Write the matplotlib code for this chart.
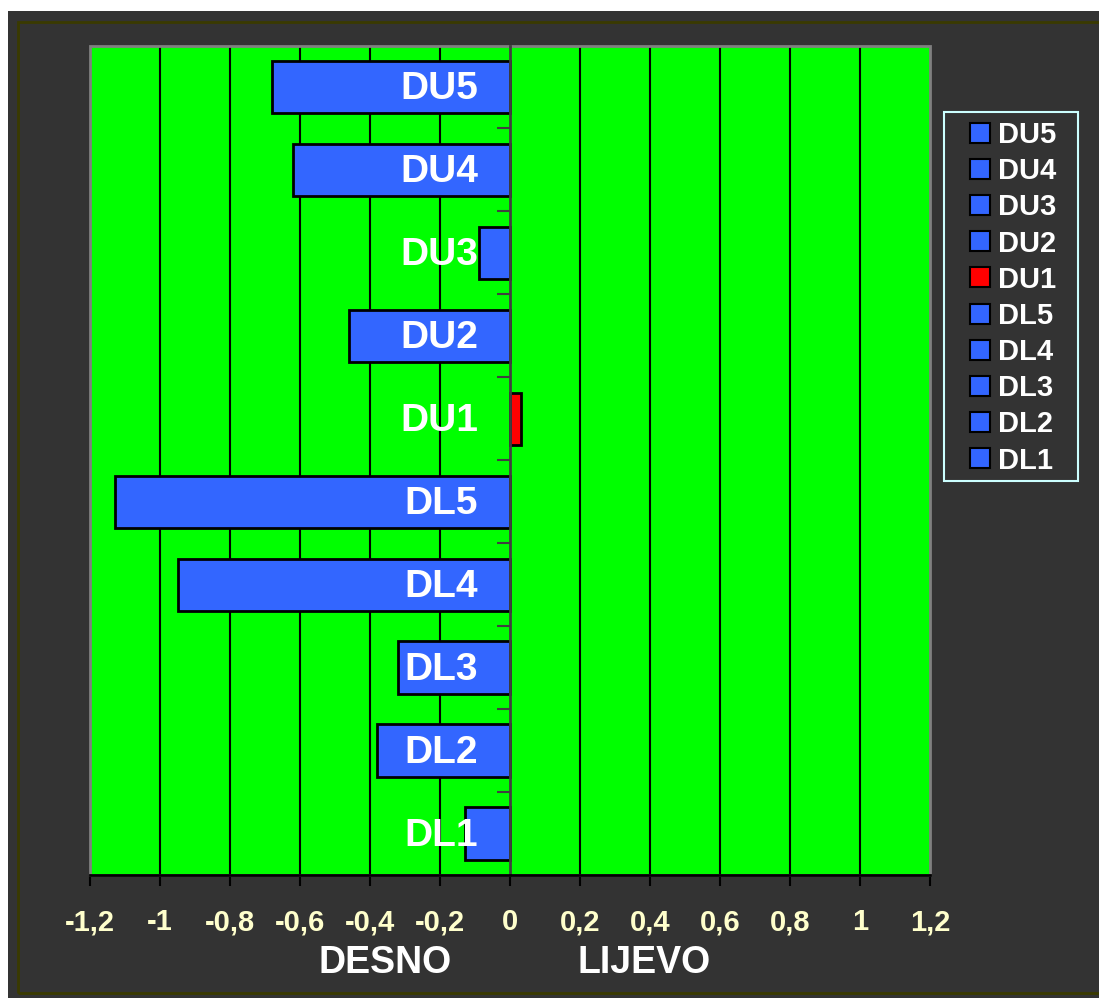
import matplotlib.pyplot as plt
from matplotlib.patches import Rectangle
from matplotlib.lines import Line2D

plt.rcParams["font.family"] = ["Liberation Sans", "DejaVu Sans"]
plt.rcParams["font.weight"] = "bold"

# podaci: odstupanja po mjernim tockama (odozdo prema gore)
tocke = ["DL1", "DL2", "DL3", "DL4", "DL5", "DU1", "DU2", "DU3", "DU4", "DU5"]
odstupanja = [-0.13, -0.38, -0.32, -0.95, -1.13, 0.03, -0.46, -0.09, -0.62, -0.68]
boje = ["#3366FF"] * 5 + ["#FF0000"] + ["#3366FF"] * 4
x_ticks = [-1.2, -1.0, -0.8, -0.6, -0.4, -0.2, 0, 0.2, 0.4, 0.6, 0.8, 1.0, 1.2]

W, H = 1099, 998
fig = plt.figure(figsize=(W / 100, H / 100), dpi=100, facecolor="white")

# tamna pozadina i okvir
fig.patches.append(Rectangle((8 / W, 0), 1, 1 - 11 / H, transform=fig.transFigure,
                             facecolor="#333333", edgecolor="none", zorder=-2))
fig.patches.append(Rectangle((18 / W, 1 - 993 / H), 1, (993 - 22) / H, transform=fig.transFigure,
                             facecolor="none", edgecolor="#3A3A00", lw=2, zorder=-1))

ax = fig.add_axes([90 / W, 1 - 875 / H, 840 / W, 829.5 / H])
ax.set_facecolor("#00FF00")

y = list(range(len(tocke)))
ax.barh(y, odstupanja, height=0.63, color=boje, edgecolor="black", linewidth=2, zorder=3)

ax.set_xlim(-1.2, 1.2)
ax.set_ylim(-0.5, len(tocke) - 0.5)

# mreza
for xt in x_ticks[1:-1]:
    if xt != 0:
        ax.axvline(xt, color="black", lw=1.5, zorder=1)

# okvir podrucja grafa
ax.add_patch(Rectangle((0, 0), 1, 1, transform=ax.transAxes, fill=False,
                       edgecolor="#808080", lw=2, zorder=2, clip_on=False))

for s in ["top", "right"]:
    ax.spines[s].set_visible(False)
ax.spines["left"].set_position(("data", 0))
ax.spines["left"].set_color("#404040")
ax.spines["left"].set_linewidth(2)
ax.spines["left"].set_zorder(4)
ax.spines["bottom"].set_color("black")
ax.spines["bottom"].set_linewidth(2)
ax.spines["bottom"].set_zorder(4)

ax.set_yticks([i + 0.5 for i in range(len(tocke) - 1)])
ax.set_yticklabels([])
ax.tick_params(axis="y", direction="out", length=9.5, width=1.5, color="#404040")

ax.set_xticks(x_ticks)
ax.set_xticklabels([f"{v:g}".replace(".", ",") for v in x_ticks])
ax.tick_params(axis="x", direction="out", length=8, width=1.5, color="black",
               labelcolor="#FFFFCC", labelsize=21, pad=16)

# nazivi tocaka uz os
for i, naziv in enumerate(tocke):
    ax.text(-0.091, i - 0.03, naziv, ha="right", va="center", color="white",
            fontsize=28, fontweight="bold", zorder=5)

fig.text(385 / W, 1 - 973 / H, "DESNO", ha="center", va="baseline",
         color="white", fontsize=27, fontweight="bold")
fig.text(644 / W, 1 - 973 / H, "LIJEVO", ha="center", va="baseline",
         color="white", fontsize=27, fontweight="bold")

# legenda s vlastitim okvirom
fig.patches.append(Rectangle((944 / W, 1 - 481 / H), 134 / W, 369 / H, transform=fig.transFigure,
                             facecolor="#333333", edgecolor="#CCFFFF", lw=1.5, zorder=1))
handles = [Line2D([], [], marker="s", ls="none", markersize=14, markerfacecolor=c,
                  markeredgecolor="black", markeredgewidth=1.5)
           for c in boje[::-1]]
leg = fig.legend(handles, tocke[::-1], loc="upper left",
                 bbox_to_anchor=(970 / W, 1 - 121 / H), frameon=False,
                 prop={"size": 21, "weight": "bold"}, labelcolor="white",
                 labelspacing=0.28, handlelength=0.69, handletextpad=0.28,
                 borderpad=0, borderaxespad=0)
leg.set_zorder(2)

plt.savefig("out.png", dpi=100, facecolor=fig.get_facecolor())
